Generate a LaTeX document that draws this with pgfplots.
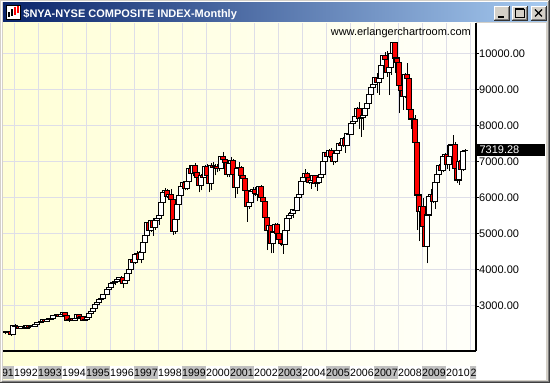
\documentclass[border=0pt]{standalone}
\usepackage{fontspec}
\setmainfont{Liberation Sans}
\usepackage{pgfplots}
\usepackage{pgfplotstable}
\pgfplotsset{compat=1.18}
\definecolor{wingray}{RGB}{212,208,200}
\definecolor{tbl}{RGB}{10,36,106}
\definecolor{tbr}{RGB}{166,202,240}
\definecolor{bgl}{RGB}{255,255,214}
\definecolor{bgr}{RGB}{255,255,250}
\definecolor{gridc}{RGB}{222,222,232}
\definecolor{cellg}{RGB}{192,192,192}
\definecolor{cred}{RGB}{255,0,0}
\pgfplotstableread{
yr mo o h l c
1991 8 2260 2300 2215 2290
1991 9 2290 2315 2250 2265
1991 10 2265 2310 2240 2290
1991 11 2290 2300 2180 2200
1991 12 2200 2470 2190 2455
1992 1 2455 2490 2390 2420
1992 2 2420 2460 2400 2440
1992 3 2440 2450 2360 2380
1992 4 2380 2440 2350 2420
1992 5 2420 2460 2400 2440
1992 6 2440 2450 2370 2390
1992 7 2390 2470 2370 2450
1992 8 2450 2460 2380 2400
1992 9 2400 2450 2390 2420
1992 10 2420 2450 2380 2430
1992 11 2430 2500 2420 2490
1992 12 2490 2545 2480 2530
1993 1 2530 2570 2510 2550
1993 2 2550 2600 2520 2580
1993 3 2580 2650 2570 2630
1993 4 2630 2640 2560 2580
1993 5 2580 2640 2570 2620
1993 6 2620 2650 2600 2640
1993 7 2640 2670 2620 2650
1993 8 2650 2740 2640 2730
1993 9 2730 2750 2700 2730
1993 10 2730 2790 2720 2770
1993 11 2770 2780 2690 2720
1993 12 2720 2775 2710 2760
1994 1 2760 2840 2750 2830
1994 2 2830 2845 2730 2740
1994 3 2740 2750 2590 2610
1994 4 2610 2650 2570 2630
1994 5 2630 2670 2600 2660
1994 6 2660 2670 2580 2590
1994 7 2590 2670 2580 2660
1994 8 2660 2770 2650 2760
1994 9 2760 2780 2680 2690
1994 10 2690 2730 2650 2710
1994 11 2710 2720 2580 2600
1994 12 2600 2650 2580 2630
1995 1 2630 2700 2610 2690
1995 2 2690 2800 2680 2790
1995 3 2790 2870 2770 2860
1995 4 2860 2950 2850 2940
1995 5 2940 3040 2920 3030
1995 6 3030 3100 3010 3090
1995 7 3090 3200 3080 3190
1995 8 3190 3230 3160 3210
1995 9 3210 3340 3200 3330
1995 10 3330 3360 3260 3310
1995 11 3310 3460 3300 3450
1995 12 3450 3540 3430 3520
1996 1 3520 3620 3440 3610
1996 2 3610 3690 3590 3640
1996 3 3640 3710 3580 3690
1996 4 3690 3760 3640 3730
1996 5 3730 3810 3700 3790
1996 6 3790 3830 3740 3780
1996 7 3780 3800 3500 3620
1996 8 3620 3740 3600 3710
1996 9 3710 3920 3690 3900
1996 10 3900 4030 3880 4000
1996 11 4000 4290 3990 4280
1996 12 4280 4320 4130 4200
1997 1 4200 4450 4170 4430
1997 2 4430 4520 4390 4460
1997 3 4460 4520 4270 4280
1997 4 4280 4500 4180 4490
1997 5 4490 4780 4480 4760
1997 6 4760 4980 4730 4960
1997 7 4960 5310 4950 5300
1997 8 5300 5330 5050 5080
1997 9 5080 5380 5060 5360
1997 10 5360 5450 4950 5180
1997 11 5180 5400 5100 5370
1997 12 5370 5460 5300 5430
1998 1 5430 5530 5250 5500
1998 2 5500 5880 5490 5870
1998 3 5870 6170 5860 6150
1998 4 6150 6280 6080 6190
1998 5 6190 6230 6000 6040
1998 6 6040 6150 5960 6090
1998 7 6090 6250 5930 5950
1998 8 5950 5980 4980 5070
1998 9 5070 5500 5000 5400
1998 10 5400 5820 5080 5800
1998 11 5800 6070 5780 6060
1998 12 6060 6310 5950 6300
1999 1 6300 6450 6230 6430
1999 2 6430 6450 6200 6250
1999 3 6250 6470 6210 6450
1999 4 6450 6900 6440 6820
1999 5 6820 6900 6600 6680
1999 6 6680 6910 6590 6890
1999 7 6890 6960 6680 6690
1999 8 6690 6740 6420 6560
1999 9 6560 6680 6150 6330
1999 10 6330 6650 6200 6620
1999 11 6620 6720 6520 6560
1999 12 6560 6900 6550 6876
2000 1 6876 6920 6450 6620
2000 2 6620 6650 6150 6380
2000 3 6380 6950 6200 6900
2000 4 6900 6990 6640 6840
2000 5 6840 6920 6620 6870
2000 6 6870 6930 6700 6800
2000 7 6800 6940 6730 6820
2000 8 6820 7160 6810 7150
2000 9 7150 7270 7000 7060
2000 10 7060 7110 6680 6980
2000 11 6980 7030 6560 6650
2000 12 6650 7000 6560 6946
2001 1 6946 7120 6900 7020
2001 2 7020 7060 6600 6630
2001 3 6630 6680 5990 6270
2001 4 6270 6830 6100 6800
2001 5 6800 6980 6720 6830
2001 6 6830 6870 6560 6620
2001 7 6620 6680 6410 6540
2001 8 6540 6580 6170 6210
2001 9 6210 6250 5335 5750
2001 10 5750 5900 5700 5860
2001 11 5860 6200 5840 6170
2001 12 6170 6300 6090 6236
2002 1 6236 6300 6050 6120
2002 2 6120 6160 5900 6080
2002 3 6080 6330 6060 6310
2002 4 6310 6340 5960 6000
2002 5 6000 6070 5800 5900
2002 6 5900 5950 5320 5450
2002 7 5450 5480 4550 5080
2002 8 5080 5300 4900 5220
2002 9 5220 5250 4460 4740
2002 10 4740 5120 4480 5050
2002 11 5050 5310 5000 5250
2002 12 5250 5290 4950 5000
2003 1 5000 5110 4800 4850
2003 2 4850 4900 4660 4720
2003 3 4720 4920 4450 4700
2003 4 4700 5110 4690 5090
2003 5 5090 5440 5060 5430
2003 6 5430 5600 5400 5500
2003 7 5500 5620 5450 5560
2003 8 5560 5680 5450 5660
2003 9 5660 5800 5600 5640
2003 10 5640 6020 5630 6000
2003 11 6000 6130 5920 6100
2003 12 6100 6450 6090 6440
2004 1 6440 6680 6400 6570
2004 2 6570 6790 6520 6680
2004 3 6680 6700 6400 6570
2004 4 6570 6680 6380 6420
2004 5 6420 6520 6250 6480
2004 6 6480 6640 6450 6620
2004 7 6620 6640 6300 6400
2004 8 6400 6450 6195 6420
2004 9 6420 6600 6400 6560
2004 10 6560 6680 6420 6640
2004 11 6640 7010 6620 6990
2004 12 6990 7270 6980 7250
2005 1 7250 7290 6990 7135
2005 2 7135 7360 7100 7320
2005 3 7320 7370 7090 7140
2005 4 7140 7170 6900 7000
2005 5 7000 7250 6950 7230
2005 6 7230 7390 7190 7300
2005 7 7300 7530 7280 7510
2005 8 7510 7560 7400 7440
2005 9 7440 7680 7400 7650
2005 10 7650 7670 7240 7440
2005 11 7440 7800 7420 7790
2005 12 7790 7890 7730 7754
2006 1 7754 8080 7750 8050
2006 2 8050 8160 7960 8100
2006 3 8100 8270 8050 8250
2006 4 8250 8500 8200 8480
2006 5 8480 8650 7900 8200
2006 6 8200 8250 7690 8230
2006 7 8230 8310 7880 8280
2006 8 8280 8490 8200 8470
2006 9 8470 8620 8400 8600
2006 10 8600 8870 8580 8850
2006 11 8850 9080 8780 9050
2006 12 9050 9200 9000 9139
2007 1 9139 9330 9050 9320
2007 2 9320 9450 8900 9200
2007 3 9200 9330 8850 9300
2007 4 9300 9660 9280 9650
2007 5 9650 9960 9630 9950
2007 6 9950 10040 9650 9820
2007 7 9820 10060 9350 9460
2007 8 9460 9650 8840 9600
2007 9 9600 10010 9400 10000
2007 10 10000 10320 9960 10290
2007 11 10290 10300 9450 9870
2007 12 9870 10000 9600 9740
2008 1 9740 9760 8340 9120
2008 2 9120 9400 8800 8970
2008 3 8970 9100 8430 8800
2008 4 8800 9450 8750 9400
2008 5 9400 9720 9250 9310
2008 6 9310 9400 8420 8440
2008 7 8440 8600 7900 8180
2008 8 8180 8450 8000 8160
2008 9 8160 8300 7000 7520
2008 10 7520 7600 5100 6075
2008 11 6075 6300 4800 5610
2008 12 5610 5900 5300 5757
2009 1 5757 6000 5100 5200
2009 2 5200 5400 4640 4660
2009 3 4660 5560 4180 5520
2009 4 5520 6050 5350 6030
2009 5 6030 6250 5900 6100
2009 6 6100 6200 5850 5890
2009 7 5890 6430 5700 6415
2009 8 6415 6700 6350 6650
2009 9 6650 6920 6550 6900
2009 10 6900 7050 6700 6750
2009 11 6750 7190 6700 7150
2009 12 7150 7240 7020 7185
2010 1 7185 7460 6800 6918
2010 2 6918 7150 6750 7133
2010 3 7133 7500 7100 7460
2010 4 7460 7735 7350 7480
2010 5 7480 7550 6650 6800
2010 6 6800 6880 6400 6490
2010 7 6490 7050 6355 7000
2010 8 7000 7150 6700 6790
2010 9 6790 7330 6750 7275
2010 10 7300 7340 7290 7319.28
}\ohlc
\newcommand\winbtn[1]{%
  \fill[wingray] (#1,363) rectangle (#1+16,377);
  \draw[white,line width=1pt] (#1+0.5,363.5) -- (#1+0.5,376.5) -- (#1+15.5,376.5);
  \draw[black!80,line width=1pt] (#1,362.5) -- (#1+15.5,362.5) -- (#1+15.5,377);
  \draw[black!50,line width=1pt] (#1+1,363.5) -- (#1+14.5,363.5) -- (#1+14.5,376);
}
\begin{document}
\begin{tikzpicture}[x=1pt,y=1pt]
% window frame
\fill[wingray] (0,0) rectangle (550,383);
\draw[white,line width=1pt] (1.5,1.5) -- (1.5,381.5) -- (548.5,381.5);
\draw[black!75,line width=1pt] (0,0.5) -- (549.5,0.5) -- (549.5,383);
\draw[black!50,line width=1pt] (1.5,1.5) -- (548.5,1.5) -- (548.5,381.5);
% chart background
\shade[left color=bgl, right color=bgr] (3,3.7) rectangle (476,360);
\fill[white] (476,3) rectangle (546,360);
% year cells
\begin{scope}
\clip (3,3) rectangle (476,17);
\foreach \Y in {1991,...,2011}{
  \pgfmathsetmacro\xz{14+24*(\Y-1992)}
  \pgfmathtruncatemacro\odd{mod(\Y,2)}
  \ifnum\odd=1 \fill[cellg] (\xz,3.7) rectangle ++(24,13);\else \fill[white] (\xz,3.7) rectangle ++(24,13);\fi
}
\foreach \Y in {1992,...,2010}{
  \pgfmathsetmacro\xz{14+24*(\Y-1992)}
  \node[font=\fontsize{10.6}{12}\selectfont, inner sep=0pt] at (\xz+12,9.8) {\Y};
}
\node[font=\fontsize{10.6}{12}\selectfont, inner sep=0pt, anchor=east] at (14,9.8) {91};
\node[font=\fontsize{10.6}{12}\selectfont, inner sep=0pt, anchor=west] at (470.5,9.8) {2};
\end{scope}
% chart
\begin{axis}[
  at={(3pt,32pt)}, anchor=south west,
  x=24pt, y=0.0361pt,
  xmin=1991.54, xmax=2011.25, ymin=1753, ymax=10839,
  axis x line*=bottom, axis y line*=right,
  axis line style={black, line width=1.2pt},
  xtick={1992,1993,...,2011}, xticklabels={},
  x tick style={draw=none},
  ytick={3000,4000,...,10000},
  y tick style={black, line width=0.8pt},
  tick align=outside, major tick length=3pt,
  xmajorgrids, ymajorgrids,
  major grid style={gridc, line width=1pt},
  scaled y ticks=false,
  yticklabel style={font=\fontsize{11}{13}\selectfont, anchor=west, inner sep=0pt,
    /pgf/number format/.cd, fixed, fixed zerofill, precision=2, 1000 sep={}, assume math mode=true},
]
\pgfplotstablegetrowsof{\ohlc}
\pgfmathtruncatemacro\nrows{\pgfplotsretval-1}
\pgfplotsforeachungrouped \idx in {0,...,\nrows}{%
  \pgfplotstablegetelem{\idx}{yr}\of\ohlc \let\cYr\pgfplotsretval
  \pgfplotstablegetelem{\idx}{mo}\of\ohlc \let\cMo\pgfplotsretval
  \pgfplotstablegetelem{\idx}{o}\of\ohlc \let\cO\pgfplotsretval
  \pgfplotstablegetelem{\idx}{h}\of\ohlc \let\cH\pgfplotsretval
  \pgfplotstablegetelem{\idx}{l}\of\ohlc \let\cL\pgfplotsretval
  \pgfplotstablegetelem{\idx}{c}\of\ohlc \let\cC\pgfplotsretval
  \pgfmathsetmacro\cX{\cYr+(\cMo-0.5)/12}%
  \pgfmathsetmacro\cXL{\cX-0.095}%
  \pgfmathsetmacro\cXR{\cX+0.095}%
  \ifdim\cC pt<\cO pt \def\fc{cred}\else\def\fc{white}\fi
  \edef\cmd{\noexpand\addplot[mark=none, draw=black, line width=1.05pt] coordinates {(\cX,\cL) (\cX,\cH)};
    \noexpand\addplot[mark=none, draw=black, fill=\fc, line width=1.05pt] coordinates {(\cXL,\cO) (\cXR,\cO) (\cXR,\cC) (\cXL,\cC)} -- cycle;}%
  \cmd
}
\coordinate (lastp) at (axis cs:2011.25,7319.28);
\end{axis}
% last value label
\fill[black] ([shift={(0.6,-6.4)}]lastp) rectangle ([shift={(69,6.3)}]lastp);
\node[anchor=west, inner sep=0pt, text=white, font=\fontsize{11}{13}\selectfont] at ([xshift=3.3pt]lastp) {7319.28};
% website
\node[anchor=base east, inner sep=0pt, font=\fontsize{11}{13}\selectfont] at (471,347.5) {www.erlangerchartroom.com};
% title bar
\shade[left color=tbl, right color=tbr] (3,361) rectangle (547,380);
\fill[white] (6,364) rectangle (20,378);
\draw[black,line width=0.8pt] (6,364) rectangle (20,378);
\draw[black,line width=1.2pt] (9,366) -- (9,371) (12,367) -- (12,374);
\draw[cred,line width=1.2pt] (15,368) -- (15,376) (18,370) -- (18,377);
\node[anchor=base west, inner sep=0pt, text=white, font=\bfseries\fontsize{11}{13}\selectfont] at (23.2,365.5) {\$NYA-NYSE COMPOSITE INDEX-Monthly};
\winbtn{494}
\winbtn{511.5}
\winbtn{530.5}
\draw[black,line width=1.8pt] (498,366.2) -- (504,366.2);
\draw[black,line width=0.9pt] (515,366) rectangle (524,374);
\draw[black,line width=1.8pt] (515,373.6) -- (524,373.6);
\draw[black,line width=1.4pt] (535,366.5) -- (542,373.5) (535,373.5) -- (542,366.5);
\pgfresetboundingbox
\useasboundingbox (0,0) rectangle (550,383);
\end{tikzpicture}
\end{document}
